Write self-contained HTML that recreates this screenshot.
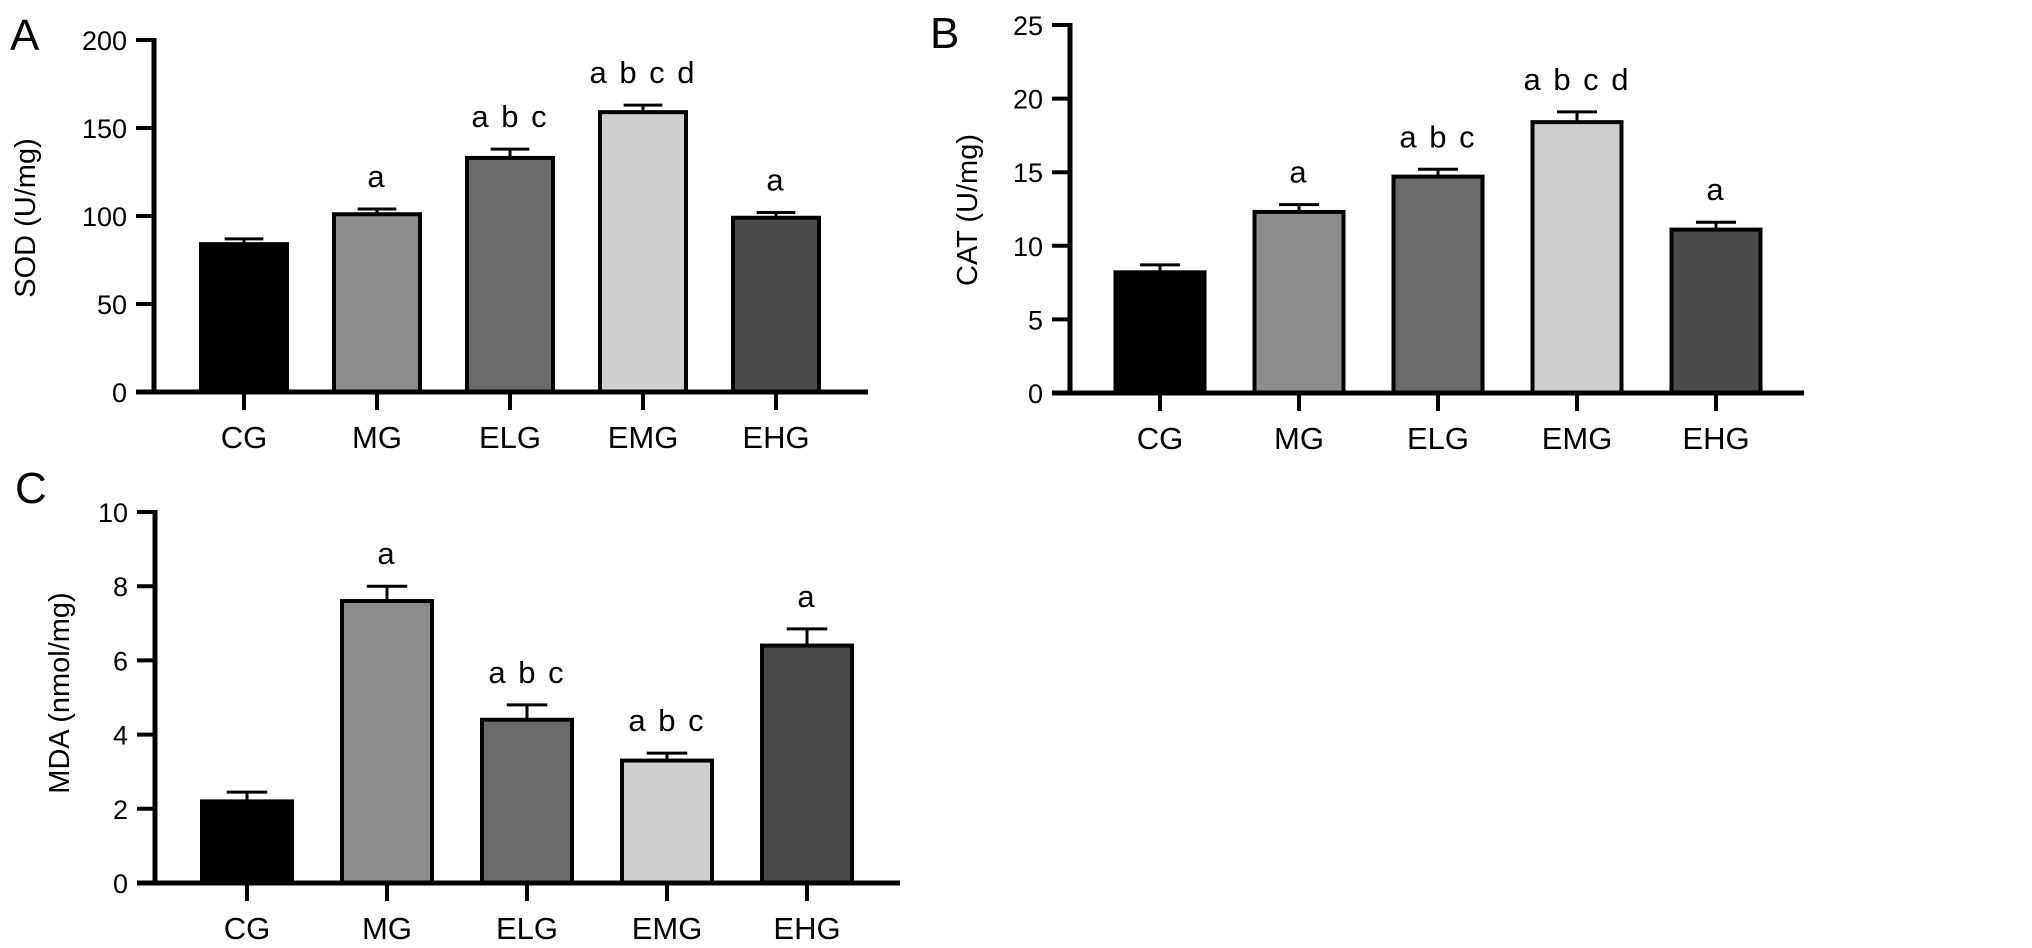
<!DOCTYPE html>
<html><head><meta charset="utf-8">
<style>
html,body{margin:0;padding:0;background:#fff;}
svg{display:block;font-family:"Liberation Sans",Arial,sans-serif;}
</style></head>
<body>
<svg id="fig" width="2032" height="948" viewBox="0 0 2032 948" xmlns="http://www.w3.org/2000/svg"></svg>
<script>
const categories = ["CG","MG","ELG","EMG","EHG"];
const fills = ["#000000","#8c8c8c","#6b6b6b","#cfcfcf","#4a4a4a"];
const sodValues = [84,101,133,159,99];
const sodErrors = [3,3,5,4,3];
const sodLetters = ["","a","a b c","a b c d","a"];
const sodTicks = [0,50,100,150,200];
const catValues = [8.2,12.3,14.7,18.4,11.1];
const catErrors = [0.5,0.5,0.5,0.7,0.5];
const catLetters = ["","a","a b c","a b c d","a"];
const catTicks = [0,5,10,15,20,25];
const mdaValues = [2.2,7.6,4.4,3.3,6.4];
const mdaErrors = [0.25,0.4,0.4,0.2,0.45];
const mdaLetters = ["","a","a b c","a b c","a"];
const mdaTicks = [0,2,4,6,8,10];

const NS="http://www.w3.org/2000/svg";
const svg=document.getElementById('fig');
function mk(tag,attrs,parent){const e=document.createElementNS(NS,tag);for(const k in attrs)e.setAttribute(k,attrs[k]);(parent||svg).appendChild(e);return e;}

function panel(cfg){
  const g=mk('g',{});
  
  
  const ymax=cfg.ticks[cfg.ticks.length-1];
  const y=v=>cfg.y0-(v/ymax)*(cfg.y0-cfg.yTop);
  const x=i=>cfg.x0+i*cfg.step;
  const pl=mk('text',{x:cfg.lx,y:cfg.ly,'font-size':44,fill:'#000'},g);pl.textContent=cfg.letter;
  
  
  const yt=mk('text',{x:cfg.tx,y:cfg.ty,'font-size':29,'text-anchor':'middle',transform:`rotate(-90 ${cfg.tx} ${cfg.ty})`,fill:'#000'},g);yt.textContent=cfg.title;
  
  
  categories.forEach((c,i)=>{
    const v=cfg.values[i],e=cfg.errors[i],cx=x(i);
    const hw=cfg.bw/2;
    const el=mk('line',{x1:cx,x2:cx,y1:y(v),y2:y(v+e),stroke:'#000','stroke-width':3},g);
    
    
    const cap=mk('line',{x1:cx-hw*0.45,x2:cx+hw*0.45,y1:y(v+e),y2:y(v+e),stroke:'#000','stroke-width':3},g);
    
    
    const r=mk('rect',{x:cx-hw,y:y(v),width:cfg.bw,height:cfg.y0-y(v),fill:fills[i],stroke:'#000','stroke-width':4},g);
    
    
    if(cfg.letters[i]){
      const t=mk('text',{x:cx,y:y(v+e)-22,'font-size':31,'letter-spacing':2,'text-anchor':'middle',fill:'#000'},g);t.textContent=cfg.letters[i];
      
      
    }
    const tk=mk('line',{x1:cx,x2:cx,y1:cfg.y0,y2:cfg.y0+18,stroke:'#000','stroke-width':4},g);
    
    
    const lb=mk('text',{x:cx,y:cfg.y0+56,'font-size':31,'text-anchor':'middle',fill:'#000'},g);lb.textContent=c;
    
    
  });
  const ya=mk('line',{x1:cfg.ax,x2:cfg.ax,y1:cfg.yTop-2,y2:cfg.y0+2,stroke:'#000','stroke-width':5},g);
  
  
  const xa=mk('line',{x1:cfg.ax-18,x2:cfg.xEnd,y1:cfg.y0,y2:cfg.y0,stroke:'#000','stroke-width':5},g);
  
  
  cfg.ticks.forEach(tv=>{
    const l=mk('line',{x1:cfg.ax-18,x2:cfg.ax,y1:y(tv),y2:y(tv),stroke:'#000','stroke-width':4},g);
    
    
    const t=mk('text',{x:cfg.ax-27,y:y(tv)+10,'font-size':27,'text-anchor':'end',fill:'#000'},g);t.textContent=tv;
    
    
  });
}

panel({name:'panel-a-sod',letter:'A',lx:10,ly:50,title:'SOD (U/mg)',tx:35,ty:218,ax:154,yTop:40,y0:392,x0:244,step:133,bw:86,xEnd:868,
  values:sodValues,errors:sodErrors,letters:sodLetters,ticks:sodTicks});
panel({name:'panel-b-cat',letter:'B',lx:930,ly:48,title:'CAT (U/mg)',tx:977,ty:210,ax:1070,yTop:25,y0:393,x0:1160,step:139,bw:89,xEnd:1804,
  values:catValues,errors:catErrors,letters:catLetters,ticks:catTicks});
panel({name:'panel-c-mda',letter:'C',lx:15,ly:503,title:'MDA (nmol/mg)',tx:69,ty:693,ax:155,yTop:512,y0:883,x0:247,step:140,bw:90,xEnd:900,
  values:mdaValues,errors:mdaErrors,letters:mdaLetters,ticks:mdaTicks});
</script>
</body></html>
